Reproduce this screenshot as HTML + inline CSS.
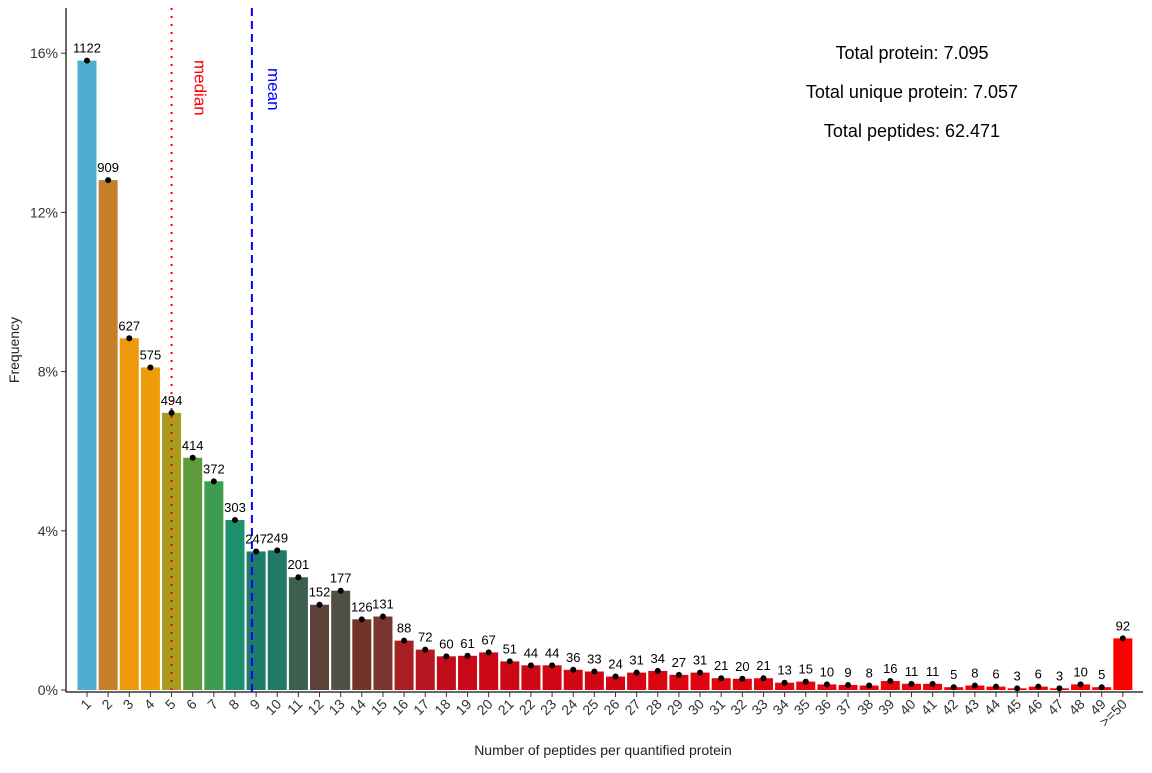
<!DOCTYPE html>
<html><head><meta charset="utf-8"><style>
body{margin:0;background:#fff;}
svg text{font-family:"Liberation Sans",sans-serif;}
</style></head><body>
<svg id="chart" width="1152" height="768" xmlns="http://www.w3.org/2000/svg"></svg>
<script>
const categories=["1","2","3","4","5","6","7","8","9","10","11","12","13","14","15","16","17","18","19","20","21","22","23","24","25","26","27","28","29","30","31","32","33","34","35","36","37","38","39","40","41","42","43","44","45","46","47","48","49",">=50"];
const counts=[1122,909,627,575,494,414,372,303,247,249,201,152,177,126,131,88,72,60,61,67,51,44,44,36,33,24,31,34,27,31,21,20,21,13,15,10,9,8,16,11,11,5,8,6,3,6,3,10,5,92];
const yTicks=[0,4,8,12,16];
const totalProtein=7095;
const medianVal=5;
const meanVal=8.8;
const infoLines=["Total protein: 7.095","Total unique protein: 7.057","Total peptides: 62.471"];
const baseColors=["#4eaed0","#c67f29","#ef980b","#ed9c0a","#a89a1d","#5f9a3a","#3f9a52","#1d916e","#1e7b6a","#1f7868","#3c5f50","#5f4138","#4f5144","#733428","#7a3430","#a81f22","#b5161f","#c20b18"];

const NS="http://www.w3.org/2000/svg";
const svg=document.getElementById('chart');
const x0=87,step=21.14,bw=19,yBase=690,pxPerPct=39.8;
const xs=i=>x0+i*step;
const xv=v=>x0+(v-1)*step;
const ys=p=>yBase-p*pxPerPct;
function mk(t,a,parent){const e=document.createElementNS(NS,t);for(const k in a)e.setAttribute(k,a[k]);(parent||svg).appendChild(e);return e;}
function colorFor(i){
  if(i<baseColors.length)return baseColors[i];
  const t=(i-baseColors.length)/(categories.length-1-baseColors.length);
  const r=Math.round(0xc8+(0xff-0xc8)*t),g=Math.round(8*(1-t)),b=Math.round(0x18*(1-t));
  return `rgb(${r},${g},${b})`;
}
const gBars=mk('g',{});


counts.forEach((c,i)=>{
  const p=c/totalProtein*100;
  const r=mk('rect',{x:xs(i)-bw/2,y:ys(p),width:bw,height:yBase-ys(p),fill:colorFor(i)},gBars);
  
  
  const d=mk('circle',{cx:xs(i),cy:ys(p),r:3,fill:'#000'},gBars);
  
  
  const t=mk('text',{x:xs(i),y:ys(p)-8,'text-anchor':'middle','font-size':13,fill:'#000'},gBars);
  t.textContent=c;
  
  
  const tk=mk('line',{x1:xs(i),x2:xs(i),y1:692,y2:697,stroke:'#333'});
  
  
  const lx=xs(i)+5,ly=705;
  const tl=mk('text',{x:lx,y:ly,'text-anchor':'end','font-size':14,fill:'#333',transform:`rotate(-45 ${lx} ${ly})`});
  tl.textContent=categories[i];
  
  
});
yTicks.forEach(v=>{
  const tk=mk('line',{x1:61,x2:66,y1:ys(v),y2:ys(v),stroke:'#333'});
  
  
  const t=mk('text',{x:58,y:ys(v)+5,'text-anchor':'end','font-size':14,fill:'#333'});
  t.textContent=v+'%';
  
  
});
let a=mk('line',{x1:66,x2:66,y1:8,y2:692,stroke:'#333','stroke-width':1.5});

a=mk('line',{x1:66,x2:1143,y1:692,y2:692,stroke:'#333','stroke-width':1.5});

let l=mk('line',{x1:xv(medianVal),x2:xv(medianVal),y1:8,y2:692,stroke:'#ff0000','stroke-width':2,'stroke-dasharray':'2 6'});

l=mk('line',{x1:xv(meanVal),x2:xv(meanVal),y1:8,y2:692,stroke:'#0000ff','stroke-width':2,'stroke-dasharray':'8 5'});

let mx=xv(medianVal)+23;
let t=mk('text',{x:mx,y:60,'font-size':17,fill:'#ff0000',transform:`rotate(90 ${mx} 60)`});
t.textContent='median';
mx=xv(meanVal)+16;
t=mk('text',{x:mx,y:68,'font-size':17,fill:'#0000ff',transform:`rotate(90 ${mx} 68)`});
t.textContent='mean';
infoLines.forEach((s,i)=>{
  const e=mk('text',{x:912,y:59+i*39,'text-anchor':'middle','font-size':18,fill:'#000'});
  e.textContent=s;
});
t=mk('text',{x:603,y:755,'text-anchor':'middle','font-size':14,fill:'#222'});
t.textContent='Number of peptides per quantified protein';
t=mk('text',{x:19,y:350,'text-anchor':'middle','font-size':14,fill:'#222',transform:'rotate(-90 19 350)'});
t.textContent='Frequency';
</script>
</body></html>
